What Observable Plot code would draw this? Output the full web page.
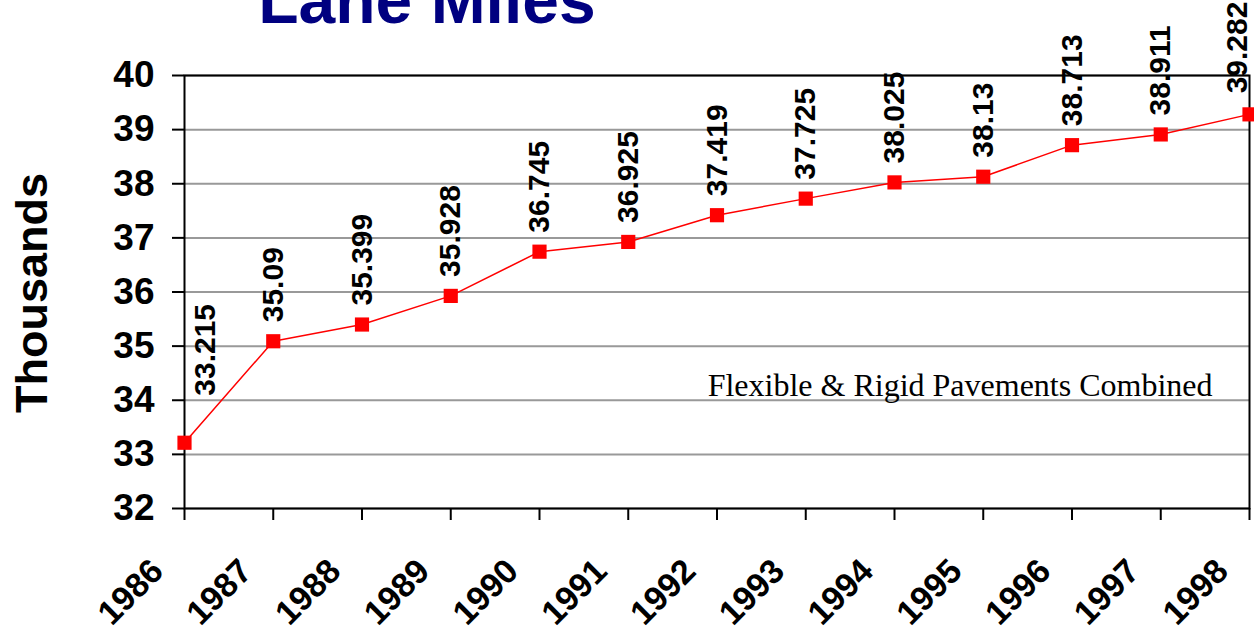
<!DOCTYPE html>
<html>
<head>
<meta charset="utf-8">
<script src="https://cdn.jsdelivr.net/npm/d3@7"></script>
<script src="https://cdn.jsdelivr.net/npm/@observablehq/plot@0.6"></script>
<style>
  html, body { margin: 0; padding: 0; background: #fff; overflow: hidden; }
  #wrap { position: relative; width: 1254px; height: 635px; overflow: hidden; }
  #title { position: absolute; top: -38px; left: 0; width: 854px; text-align: center;
    font: bold 66px "Liberation Sans", Arial, sans-serif; color: #000080; white-space: nowrap; }
  #chart { position: absolute; top: 0; left: 0; }
</style>
</head>
<body>
<div id="wrap">
  <div id="chart"></div>
  <div id="title">Lane Miles</div>
</div>
<script>
const years = [1986, 1987, 1988, 1989, 1990, 1991, 1992, 1993, 1994, 1995, 1996, 1997, 1998];
const laneMiles = [33.215, 35.09, 35.399, 35.928, 36.745, 36.925, 37.419, 37.725, 38.025, 38.13, 38.713, 38.911, 39.282];
const labels = ["33.215", "35.09", "35.399", "35.928", "36.745", "36.925", "37.419", "37.725", "38.025", "38.13", "38.713", "38.911", "39.282"];
const yTicks = [32, 33, 34, 35, 36, 37, 38, 39, 40];
const yTitle = "Thousands";
const note = "Flexible & Rigid Pavements Combined";

const data = years.map((y, i) => ({year: y, value: laneMiles[i], label: labels[i]}));
const first = data.slice(0, 1);
const middle = data.slice(1, -1);
const last = data.slice(-1);

const font = "'Liberation Sans', Arial, sans-serif";

const chart = Plot.plot({
  width: 1254,
  height: 635,
  marginTop: 75,
  marginLeft: 184,
  marginRight: 5,
  marginBottom: 127,
  style: { fontFamily: font, background: "white", overflow: "visible" },
  x: { domain: [1986, 1998] },
  y: { domain: [32, 40] },
  marks: [
    Plot.gridY(yTicks, { stroke: "#999", strokeOpacity: 1, strokeWidth: 2 }),
    Plot.frame({ stroke: "black", strokeWidth: 2 }),
    Plot.axisY(yTicks, { tickSize: 12, tickPadding: 18, tickFormat: d => String(d), fontSize: 37, fontWeight: "bold", fill: "black", stroke: "black", strokeWidth: 2, label: null }),
    Plot.axisX(years, { tickSize: 12, tickFormat: () => "", stroke: "black", strokeWidth: 2, label: null }),
    Plot.text(years, { x: d => d, frameAnchor: "bottom", text: d => String(d), rotate: -45, textAnchor: "end", lineAnchor: "middle", dx: -27, dy: 57, fontSize: 34, fontWeight: "bold", fill: "black" }),
    Plot.text([yTitle], { frameAnchor: "left", textAnchor: "middle", rotate: -90, dx: -152, dy: 1, fontSize: 45, fontWeight: "bold", fill: "black" }),
    Plot.line(data, { x: "year", y: "value", stroke: "#ff0000", strokeWidth: 1.5 }),
    Plot.dot(data, { x: "year", y: "value", symbol: "square", r: 8, fill: "#ff0000", stroke: "none" }),
    Plot.text(middle, { x: "year", y: "value", text: "label", rotate: -90, textAnchor: "start", dy: -19, fontSize: 30, fontWeight: "bold", fill: "black" }),
    Plot.text(first, { x: "year", y: "value", text: "label", rotate: -90, textAnchor: "start", dx: 21, dy: -47, fontSize: 30, fontWeight: "bold", fill: "black" }),
    Plot.text(last, { x: "year", y: "value", text: "label", rotate: -90, textAnchor: "start", dx: -12, dy: -21, fontSize: 30, fontWeight: "bold", fill: "black" }),
    Plot.text([note], { frameAnchor: "bottom-right", textAnchor: "end", dx: -37, dy: -113, fontSize: 32, fontFamily: "'Liberation Serif', 'Times New Roman', serif", fill: "black" })
  ]
});
document.getElementById("chart").appendChild(chart);
</script>
</body>
</html>
